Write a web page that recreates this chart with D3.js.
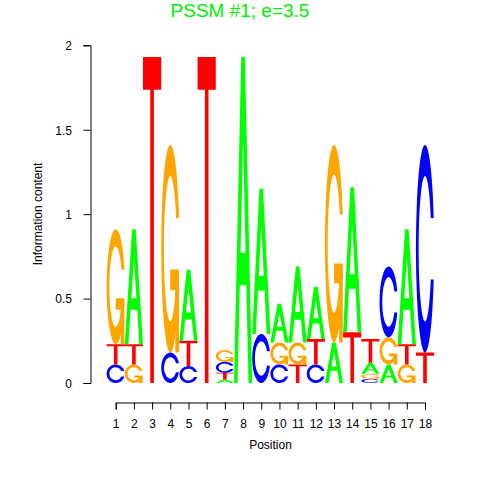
<!DOCTYPE html>
<head>
  <meta charset="utf-8" />
  <script src="https://d3js.org/d3.v7.min.js"></script>
  <style>
    body { margin: 0; background: #fff; }
    text { font-family: "Liberation Sans", Arial, sans-serif; }
  </style>
</head>
<body>
<div id="logo"></div>
<script>

// information content (bits) of each base at positions 1..18
var positions = d3.range(1, 19);
var bitsA = [0, 0.68, 0, 0, 0.42, 0, 0.02, 1.93, 0.86, 0.23, 0.45, 0.31, 0.24, 0.86, 0.065, 0.11, 0.68, 0];
var bitsC = [0.11, 0, 0, 0.18, 0.10, 0, 0.065, 0, 0.29, 0.11, 0, 0.11, 0, 0, 0.025, 0.42, 0, 1.23];
var bitsG = [0.68, 0.11, 0, 1.23, 0, 0, 0.07, 0, 0, 0.13, 0.13, 0, 1.17, 0, 0.03, 0.16, 0.11, 0];
var bitsT = [0.12, 0.12, 1.93, 0, 0.15, 1.93, 0.04, 0, 0, 0, 0.11, 0.15, 0, 0.30, 0.14, 0, 0.12, 0.18];
var yTicks = [0, 0.5, 1, 1.5, 2];

var bases = ["A", "C", "G", "T"];
var bitsByBase = {A: bitsA, C: bitsC, G: bitsG, T: bitsT};
var colors = {A: "#00ff00", C: "#0000ff", G: "#ffa500", T: "#ff0000"};

// letter outlines in a unit box (y down), like seqLogo's polygons
var cPath = "M0.978,0.352 A0.5,0.5 0 1 0 0.978,0.648 L0.817,0.648 A0.35,0.35 0 1 1 0.817,0.352 Z";
var glyphs = {
  A: ["M0,1 L0.4,0 L0.6,0 L1,1 L0.8,1 L0.68,0.7 L0.32,0.7 L0.2,1 Z M0.36,0.6 L0.5,0.25 L0.64,0.6 Z"],
  C: [cPath],
  G: [cPath, "M0.5,0.6 L0.978,0.6 L0.978,1 L0.778,1 L0.778,0.7 L0.5,0.7 Z"],
  T: ["M0,0 L1,0 L1,0.1 L0.6,0.1 L0.6,1 L0.4,1 L0.4,0.1 L0,0.1 Z"]
};

var svg = d3.select("#logo")
  .append("svg")
  .attr("width", 480)
  .attr("height", 480);

var x = d3.scaleLinear().domain([1, 18]).range([115.7, 425]);
var y = d3.scaleLinear().domain([0, 2]).range([383, 45.3]);

// stack letters: smallest at the bottom
var stacks = [];
positions.forEach(function(p, i) {
  var col = bases.map(function(b) { return {base: b, h: bitsByBase[b][i]}; })
    .filter(function(d) { return d.h > 0; })
    .sort(function(a, b) { return a.h - b.h; });
  var y0 = 0;
  col.forEach(function(d) {
    stacks.push({pos: p, base: d.base, y0: y0, y1: y0 + d.h});
    y0 += d.h;
  });
});

var letters = svg.append("g").selectAll("g")
  .data(stacks)
  .enter().append("g")
    .attr("transform", function(d) {
      var w = x(d.pos + 0.5) - x(d.pos - 0.5);
      var h = y(d.y0) - y(d.y1);
      return "translate(" + x(d.pos - 0.5) + "," + y(d.y1) + ") scale(" + w + "," + h + ")";
    })
    .attr("fill", function(d) { return colors[d.base]; });

letters.selectAll("path")
  .data(function(d) { return glyphs[d.base]; })
  .enter().append("path")
    .attr("d", function(d) { return d; })
    .attr("fill-rule", "evenodd");

// x axis
var xAxis = svg.append("g")
  .attr("transform", "translate(0,402.5)")
  .call(d3.axisBottom(x).tickValues(positions).tickSizeOuter(0).tickSize(7).tickPadding(9.5));
xAxis.selectAll("text").style("font-size", "12px").style("font-family", "Liberation Sans, Arial, sans-serif");
xAxis.selectAll("line, path").attr("stroke", "#000");

// y axis
var yAxis = svg.append("g")
  .attr("transform", "translate(90.5,0)")
  .call(d3.axisLeft(y).tickValues(yTicks).tickFormat(function(d) { return String(d); })
    .tickSizeOuter(0).tickSize(7).tickPadding(11.5));
yAxis.selectAll("text").style("font-size", "12px").style("font-family", "Liberation Sans, Arial, sans-serif")
  .attr("dy", "0.36em");
yAxis.selectAll("line, path").attr("stroke", "#000");

svg.append("text")
  .attr("x", 270.5)
  .attr("y", 449)
  .attr("text-anchor", "middle")
  .style("font-size", "12px")
  .text("Position");

svg.append("text")
  .attr("transform", "translate(41.5,214) rotate(-90)")
  .attr("text-anchor", "middle")
  .style("font-size", "12px")
  .text("Information content");

svg.append("text")
  .attr("x", 240)
  .attr("y", 16.5)
  .attr("text-anchor", "middle")
  .style("font-size", "19px")
  .style("fill", "#00ee00")
  .text("PSSM #1; e=3.5");

</script>
</body>
</html>
